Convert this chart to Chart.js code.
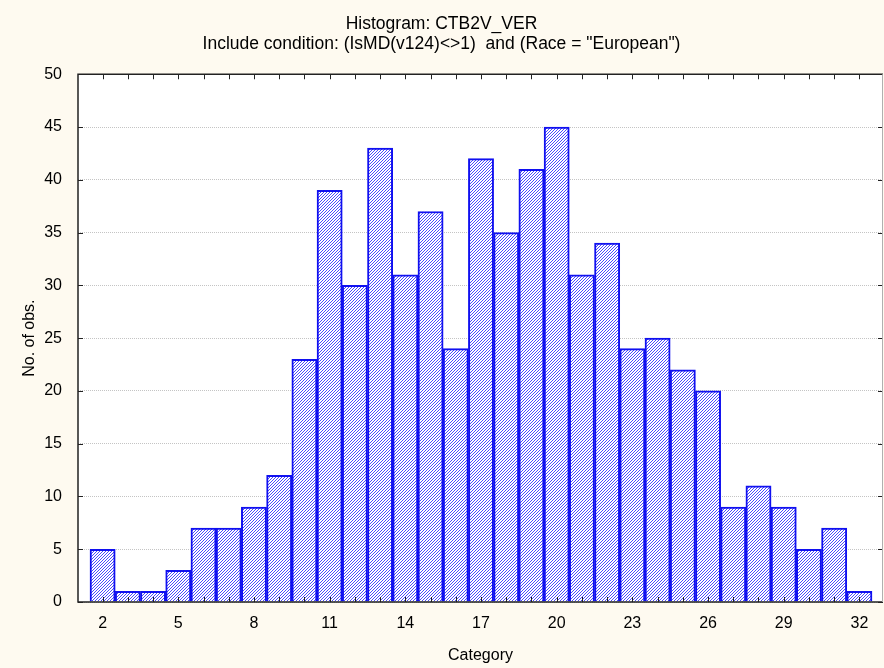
<!DOCTYPE html>
<html>
<head>
<meta charset="utf-8">
<script src="https://cdn.jsdelivr.net/npm/chart.js@4.4.1/dist/chart.umd.min.js"></script>
<style>
  html, body { margin: 0; padding: 0; background: #fefaf0; }
  #wrap { width: 884px; height: 668px; }
</style>
</head>
<body>
<div id="wrap"><canvas id="hist" width="884" height="668"></canvas></div>
<script>
// categories and counts
const categories = [2, 3, 4, 5, 6, 7, 8, 9, 10, 11, 12, 13, 14, 15, 16, 17,
                    18, 19, 20, 21, 22, 23, 24, 25, 26, 27, 28, 29, 30, 31, 32];
const counts = [5, 1, 1, 3, 7, 7, 9, 12, 23, 39, 30, 43, 31, 37, 24, 42,
                35, 41, 45, 31, 34, 24, 25, 22, 20, 9, 11, 9, 5, 7, 1];
const xTickLabels = [2, 5, 8, 11, 14, 17, 20, 23, 26, 29, 32];
const yTicks = [0, 5, 10, 15, 20, 25, 30, 35, 40, 45, 50];

const titleLines = ['Histogram: CTB2V_VER',
                    'Include condition: (IsMD(v124)<>1)  and (Race = "European")'];

const FONT = 'Liberation Sans, Arial, Helvetica, sans-serif';

// hatch fill for the bars
function hatch() {
    const c = document.createElement('canvas');
    c.width = 3; c.height = 3;
    const g = c.getContext('2d');
    g.fillStyle = '#ffffff';
    g.fillRect(0, 0, 3, 3);
    g.fillStyle = '#4a4aff';
    g.fillRect(2, 0, 1, 1);
    g.fillRect(1, 1, 1, 1);
    g.fillRect(0, 2, 1, 1);
    return g.createPattern(c, 'repeat');
}

// cream page, white plot area
const bgPlugin = {
    id: 'bg',
    beforeDraw(chart) {
        const { ctx, chartArea: a } = chart;
        ctx.save();
        ctx.fillStyle = '#fefaf0';
        ctx.fillRect(0, 0, chart.width, chart.height);
        ctx.fillStyle = '#ffffff';
        ctx.fillRect(a.left, a.top, a.right - a.left, a.bottom - a.top);
        ctx.restore();
    }
};

// frame and inward tick marks
const framePlugin = {
    id: 'frame',
    afterDraw(chart) {
        const { ctx, chartArea: a, scales } = chart;
        ctx.save();
        ctx.strokeStyle = '#222222';
        ctx.lineWidth = 1.5;
        ctx.beginPath();
        ctx.moveTo(a.right, a.top);
        ctx.lineTo(a.left, a.top);
        ctx.lineTo(a.left, a.bottom);
        ctx.lineTo(a.right, a.bottom);
        ctx.stroke();
        ctx.lineWidth = 1;
        ctx.beginPath();
        categories.forEach(c => {
            const px = Math.round(scales.x.getPixelForValue(c)) + 0.5;
            ctx.moveTo(px, a.bottom); ctx.lineTo(px, a.bottom - 5);
            ctx.moveTo(px, a.top); ctx.lineTo(px, a.top + 5);
        });
        yTicks.forEach(v => {
            const py = Math.round(scales.y.getPixelForValue(v)) + 0.5;
            ctx.moveTo(a.left, py); ctx.lineTo(a.left + 5, py);
            ctx.moveTo(a.right, py); ctx.lineTo(a.right - 5, py);
        });
        ctx.stroke();
        ctx.strokeStyle = '#b0b0b0';
        ctx.beginPath();
        ctx.moveTo(a.right - 0.5, a.top);
        ctx.lineTo(a.right - 0.5, a.bottom);
        ctx.stroke();
        ctx.restore();
    }
};

const ctx = document.getElementById('hist').getContext('2d');

new Chart(ctx, {
    type: 'bar',
    data: {
        datasets: [{
            data: categories.map((c, i) => ({ x: c, y: counts[i] })),
            backgroundColor: hatch(),
            borderColor: '#1010f0',
            borderWidth: 2,
            barPercentage: 1,
            categoryPercentage: 1
        }]
    },
    options: {
        responsive: false,
        animation: false,
        layout: { padding: { left: 0, right: 1, top: 0, bottom: 0 } },
        plugins: {
            legend: { display: false },
            tooltip: { enabled: false },
            title: {
                display: true,
                text: titleLines,
                color: '#000000',
                font: { family: FONT, size: 17.5, weight: 'normal', lineHeight: 1.15 },
                padding: { top: 14, bottom: 20 }
            }
        },
        scales: {
            x: {
                type: 'linear',
                offset: false,
                min: 1.024,
                max: 32.936,
                grid: { display: false, drawTicks: false, offset: false },
                border: { display: false },
                ticks: {
                    stepSize: 1,
                    includeBounds: false,
                    autoSkip: false,
                    maxRotation: 0,
                    padding: 12,
                    color: '#000000',
                    font: { family: FONT, size: 16 },
                    callback: v => xTickLabels.includes(v) ? String(v) : ''
                },
                title: {
                    display: true,
                    text: 'Category',
                    color: '#000000',
                    font: { family: FONT, size: 16 },
                    padding: { top: 0, bottom: 3 }
                },
                afterFit(s) { s.height = 66; }
            },
            y: {
                min: 0,
                max: 50,
                grid: { color: '#c4c4c4', drawTicks: false },
                border: { display: false, dash: [1, 1] },
                ticks: {
                    stepSize: 5,
                    padding: 16,
                    color: '#000000',
                    font: { family: FONT, size: 16 }
                },
                title: {
                    display: true,
                    text: 'No. of obs.',
                    color: '#000000',
                    font: { family: FONT, size: 16 },
                    padding: { top: 20, bottom: 0 }
                },
                afterFit(s) { s.width = 78; }
            }
        }
    },
    plugins: [bgPlugin, framePlugin]
});
</script>
</body>
</html>
